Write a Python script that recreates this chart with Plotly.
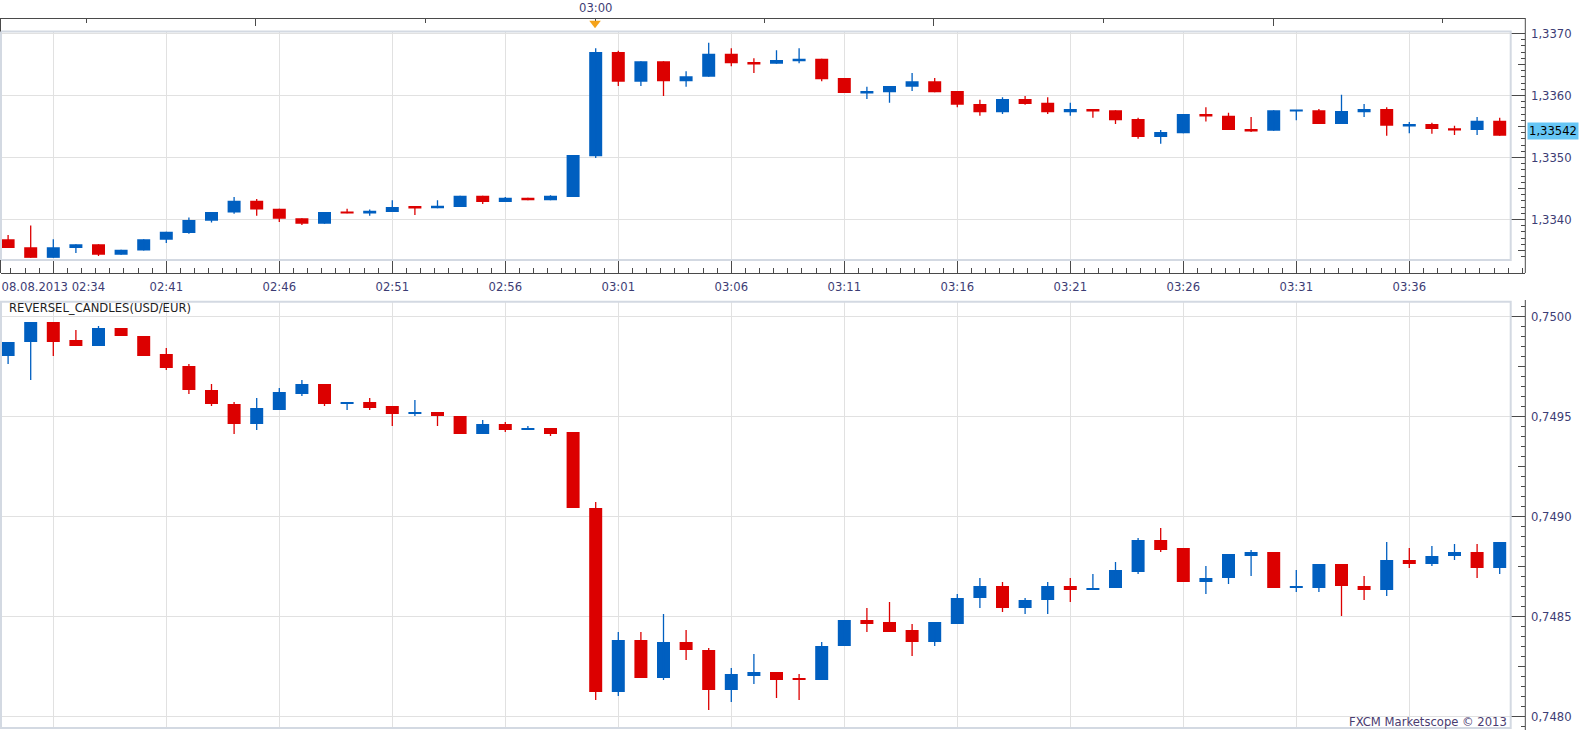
import plotly.graph_objects as go

# ---------------- data ----------------
candle_idx = list(range(67))

x_tick_idx = [2, 7, 12, 17, 22, 27, 32, 37, 42, 47, 52, 57, 62]
x_tick_text = ["08.08.2013 02:34", "02:41", "02:46", "02:51", "02:56", "03:01",
               "03:06", "03:11", "03:16", "03:21", "03:26", "03:31", "03:36"]

strip_long_ticks = [10.96, 25.97, 40.96, 55.97]
strip_short_ticks = [3.45, 18.45, 33.45, 48.45, 63.45]
strip_marker_idx = [25.97]
strip_marker_text = "03:00"

top_open = [1.33368, 1.33355, 1.33338, 1.33354, 1.33360, 1.33343, 1.33350, 1.33367, 1.33378, 1.33398,
            1.33411, 1.33430, 1.33417, 1.33402, 1.33393, 1.33412, 1.33411, 1.33412, 1.33420, 1.33418,
            1.33420, 1.33438, 1.33428, 1.33435, 1.33431, 1.33436, 1.33502, 1.33670, 1.33622, 1.33655,
            1.33623, 1.33630, 1.33667, 1.33654, 1.33651, 1.33655, 1.33659, 1.33628, 1.33604, 1.33605,
            1.33614, 1.33623, 1.33607, 1.33586, 1.33573, 1.33594, 1.33588, 1.33573, 1.33578, 1.33576,
            1.33562, 1.33533, 1.33539, 1.33570, 1.33567, 1.33546, 1.33543, 1.33575, 1.33576, 1.33554,
            1.33573, 1.33578, 1.33551, 1.33554, 1.33547, 1.33544, 1.33559]
top_high = [1.33375, 1.33390, 1.33368, 1.33360, 1.33360, 1.33351, 1.33368, 1.33380, 1.33403, 1.33412,
            1.33436, 1.33433, 1.33417, 1.33402, 1.33412, 1.33417, 1.33416, 1.33431, 1.33420, 1.33431,
            1.33438, 1.33438, 1.33436, 1.33435, 1.33439, 1.33504, 1.33676, 1.33672, 1.33655, 1.33655,
            1.33639, 1.33685, 1.33676, 1.33660, 1.33673, 1.33676, 1.33659, 1.33628, 1.33614, 1.33615,
            1.33636, 1.33628, 1.33607, 1.33593, 1.33597, 1.33599, 1.33597, 1.33588, 1.33578, 1.33576,
            1.33564, 1.33544, 1.33570, 1.33581, 1.33572, 1.33565, 1.33576, 1.33576, 1.33578, 1.33601,
            1.33586, 1.33581, 1.33557, 1.33556, 1.33551, 1.33565, 1.33564]
top_low = [1.33354, 1.33338, 1.33338, 1.33346, 1.33341, 1.33343, 1.33350, 1.33362, 1.33377, 1.33395,
           1.33409, 1.33406, 1.33396, 1.33391, 1.33393, 1.33410, 1.33406, 1.33412, 1.33407, 1.33418,
           1.33420, 1.33425, 1.33428, 1.33431, 1.33431, 1.33436, 1.33499, 1.33615, 1.33615, 1.33599,
           1.33614, 1.33630, 1.33647, 1.33636, 1.33651, 1.33652, 1.33623, 1.33604, 1.33594, 1.33588,
           1.33607, 1.33605, 1.33581, 1.33567, 1.33570, 1.33585, 1.33570, 1.33567, 1.33564, 1.33554,
           1.33530, 1.33522, 1.33539, 1.33558, 1.33544, 1.33541, 1.33543, 1.33560, 1.33554, 1.33554,
           1.33565, 1.33535, 1.33539, 1.33538, 1.33536, 1.33536, 1.33535]
top_close = [1.33354, 1.33338, 1.33355, 1.33360, 1.33343, 1.33351, 1.33368, 1.33380, 1.33399, 1.33412,
             1.33430, 1.33416, 1.33401, 1.33393, 1.33412, 1.33410, 1.33414, 1.33420, 1.33419, 1.33422,
             1.33438, 1.33428, 1.33435, 1.33431, 1.33438, 1.33504, 1.33670, 1.33622, 1.33655, 1.33623,
             1.33631, 1.33667, 1.33652, 1.33651, 1.33657, 1.33659, 1.33626, 1.33604, 1.33607, 1.33615,
             1.33623, 1.33605, 1.33585, 1.33573, 1.33594, 1.33586, 1.33573, 1.33578, 1.33575, 1.33560,
             1.33533, 1.33541, 1.33570, 1.33566, 1.33544, 1.33543, 1.33576, 1.33576, 1.33554, 1.33575,
             1.33578, 1.33551, 1.33554, 1.33546, 1.33544, 1.33559, 1.33535]

bot_open = [0.74980, 0.74987, 0.74997, 0.74988, 0.74985, 0.74994, 0.74990, 0.74981, 0.74975, 0.74963,
            0.74956, 0.74946, 0.74953, 0.74961, 0.74966, 0.74956, 0.74957, 0.74955, 0.74951, 0.74952,
            0.74950, 0.74941, 0.74946, 0.74943, 0.74944, 0.74942, 0.74904, 0.74812, 0.74838, 0.74819,
            0.74837, 0.74833, 0.74813, 0.74820, 0.74822, 0.74819, 0.74818, 0.74835, 0.74848, 0.74847,
            0.74843, 0.74837, 0.74846, 0.74859, 0.74865, 0.74854, 0.74858, 0.74865, 0.74863, 0.74864,
            0.74872, 0.74888, 0.74884, 0.74867, 0.74869, 0.74880, 0.74882, 0.74864, 0.74864, 0.74876,
            0.74865, 0.74863, 0.74878, 0.74876, 0.74880, 0.74882, 0.74874]
bot_high = [0.74987, 0.74997, 0.74997, 0.74993, 0.74995, 0.74994, 0.74990, 0.74984, 0.74976, 0.74966,
            0.74957, 0.74959, 0.74964, 0.74968, 0.74966, 0.74957, 0.74959, 0.74955, 0.74958, 0.74952,
            0.74950, 0.74948, 0.74947, 0.74945, 0.74944, 0.74942, 0.74907, 0.74842, 0.74842, 0.74851,
            0.74843, 0.74834, 0.74824, 0.74831, 0.74822, 0.74821, 0.74837, 0.74848, 0.74854, 0.74857,
            0.74846, 0.74847, 0.74861, 0.74869, 0.74867, 0.74859, 0.74867, 0.74869, 0.74871, 0.74877,
            0.74889, 0.74894, 0.74884, 0.74875, 0.74881, 0.74883, 0.74882, 0.74873, 0.74876, 0.74876,
            0.74870, 0.74887, 0.74884, 0.74885, 0.74886, 0.74886, 0.74887]
bot_low = [0.74976, 0.74968, 0.74980, 0.74985, 0.74985, 0.74990, 0.74980, 0.74973, 0.74961, 0.74955,
           0.74941, 0.74943, 0.74953, 0.74960, 0.74955, 0.74953, 0.74953, 0.74945, 0.74950, 0.74945,
           0.74941, 0.74941, 0.74942, 0.74943, 0.74940, 0.74904, 0.74808, 0.74810, 0.74819, 0.74818,
           0.74828, 0.74803, 0.74807, 0.74816, 0.74809, 0.74808, 0.74818, 0.74835, 0.74842, 0.74842,
           0.74830, 0.74835, 0.74846, 0.74854, 0.74852, 0.74851, 0.74851, 0.74857, 0.74863, 0.74864,
           0.74871, 0.74882, 0.74867, 0.74861, 0.74866, 0.74870, 0.74864, 0.74862, 0.74862, 0.74850,
           0.74858, 0.74860, 0.74874, 0.74875, 0.74878, 0.74869, 0.74871]
bot_close = [0.74987, 0.74997, 0.74987, 0.74985, 0.74994, 0.74990, 0.74980, 0.74974, 0.74963, 0.74956,
             0.74946, 0.74954, 0.74962, 0.74966, 0.74956, 0.74957, 0.74954, 0.74951, 0.74952, 0.74950,
             0.74941, 0.74946, 0.74943, 0.74944, 0.74941, 0.74904, 0.74812, 0.74838, 0.74819, 0.74837,
             0.74833, 0.74813, 0.74821, 0.74822, 0.74818, 0.74818, 0.74835, 0.74848, 0.74846, 0.74842,
             0.74837, 0.74847, 0.74859, 0.74865, 0.74854, 0.74858, 0.74865, 0.74863, 0.74864, 0.74873,
             0.74888, 0.74883, 0.74867, 0.74869, 0.74881, 0.74882, 0.74864, 0.74865, 0.74876, 0.74865,
             0.74863, 0.74878, 0.74876, 0.74880, 0.74882, 0.74874, 0.74887]

top_tick_vals = [1.3340, 1.3350, 1.3360, 1.3370]
top_tick_text = ["1,3340", "1,3350", "1,3360", "1,3370"]
top_mid_ticks = [1.3335, 1.3345, 1.3355, 1.3365]
bot_tick_vals = [0.7480, 0.7485, 0.7490, 0.7495, 0.7500]
bot_tick_text = ["0,7480", "0,7485", "0,7490", "0,7495", "0,7500"]
bot_mid_ticks = [0.74775, 0.74825, 0.74875, 0.74925, 0.74975]

last_price = 1.33542
last_price_text = "1,33542"
panel_title = "REVERSEL_CANDLES(USD/EUR)"
credit_text = "FXCM Marketscope \u00a9 2013"

# ---------------- style / layout constants ----------------
W, H = 1583, 730
UP = "#005fc0"
DOWN = "#dc0000"
GRID = "#e1e1e1"
AXIS = "#4a4a4a"
FRAME = "#d3d9e2"
LABEL = "#3c3c74"
FONT = "Verdana, 'DejaVu Sans', sans-serif"
FS = 11.6


def fx(px):
    return px / W


def fy(py):
    return 1 - py / H


PX0, PX_AXIS, PX_FRAME_R = 1.0, 1525.3, 1510.7
CANDLE_X0, CANDLE_STEP = 8.1, 22.6
x_range = [(PX0 - CANDLE_X0) / CANDLE_STEP, (PX_AXIS - CANDLE_X0) / CANDLE_STEP]
x_domain = [fx(PX0), fx(PX_AXIS)]

TOP_T, TOP_B = 31.5, 260.0
BOT_T, BOT_B = 301.7, 728.0
top_range = [1.3370 - (TOP_B - 33.4) / 62000, 1.3370 + (33.4 - TOP_T) / 62000]
bot_range = [0.7500 - (BOT_B - 316.0) / 200000, 0.7500 + (316.0 - BOT_T) / 200000]

BODY_W = 13 / CANDLE_STEP

fig = go.Figure()


def add_candles(o, h, l, c, xa, ya, min_body):
    for up, col in ((True, UP), (False, DOWN)):
        sel = [i for i in candle_idx if (c[i] >= o[i]) == up]
        wx, wy = [], []
        for i in sel:
            wx += [i, i, None]
            wy += [l[i], h[i], None]
        fig.add_trace(go.Scatter(x=wx, y=wy, mode="lines", line=dict(color=col, width=1.3),
                                 xaxis=xa, yaxis=ya, hoverinfo="skip", showlegend=False))
        fig.add_trace(go.Bar(x=sel,
                             base=[min(o[i], c[i]) for i in sel],
                             y=[max(abs(c[i] - o[i]), min_body) for i in sel],
                             width=BODY_W, marker=dict(color=col, line=dict(width=0)),
                             xaxis=xa, yaxis=ya, hoverinfo="skip", showlegend=False))


add_candles(top_open, top_high, top_low, top_close, "x", "y", 1.5 / 62000)
add_candles(bot_open, bot_high, bot_low, bot_close, "x2", "y2", 1.5 / 200000)

# strip marker (03:00)
fig.add_trace(go.Scatter(x=strip_marker_idx, y=[0.62], mode="markers",
                         marker=dict(symbol="triangle-down", size=10, color="#f5a31a", line=dict(width=0)),
                         xaxis="x3", yaxis="y3", hoverinfo="skip", showlegend=False))
# carriers for the medium-tick overlay axes
fig.add_trace(go.Scatter(x=[0], y=[top_mid_ticks[0]], mode="markers", marker=dict(opacity=0),
                         xaxis="x", yaxis="y4", hoverinfo="skip", showlegend=False))
fig.add_trace(go.Scatter(x=[0], y=[bot_mid_ticks[0]], mode="markers", marker=dict(opacity=0),
                         xaxis="x2", yaxis="y5", hoverinfo="skip", showlegend=False))

tickfont = dict(family=FONT, size=FS, color=LABEL)

common_y = dict(anchor="free", position=fx(PX_AXIS), side="right", ticks="inside",
                tickcolor=AXIS, tickwidth=1, showline=False, zeroline=False)

fig.update_layout(
    width=W, height=H, margin=dict(l=0, r=0, t=0, b=0),
    paper_bgcolor="white", plot_bgcolor="white",
    barmode="overlay", showlegend=False,
    font=dict(family=FONT, size=FS, color=LABEL),
    xaxis=dict(domain=x_domain, range=x_range, anchor="free", position=fy(273), side="bottom",
               showline=True, linecolor=AXIS, linewidth=1, ticks="inside", ticklen=12,
               tickcolor=AXIS, tickwidth=1, tickmode="array", tickvals=x_tick_idx,
               ticktext=x_tick_text, tickfont=tickfont, ticklabelstandoff=3,
               showgrid=True, gridcolor=GRID, gridwidth=1, zeroline=False,
               minor=dict(ticks="inside", ticklen=5, tickcolor=AXIS, tick0=2, dtick=0.625,
                          showgrid=False)),
    xaxis2=dict(domain=x_domain, range=x_range, anchor="y2", showline=False, ticks="",
                showticklabels=False, tickmode="array", tickvals=x_tick_idx,
                showgrid=True, gridcolor=GRID, gridwidth=1, zeroline=False),
    xaxis3=dict(domain=x_domain, range=x_range, anchor="free", position=fy(18), side="top",
                showline=True, linecolor=AXIS, linewidth=1, ticks="inside", ticklen=7,
                tickcolor=AXIS, tickmode="array", tickvals=strip_long_ticks,
                showticklabels=False, showgrid=False, zeroline=False, layer="below traces",
                minor=dict(ticks="inside", ticklen=4, tickcolor=AXIS, tickmode="array",
                           tickvals=strip_short_ticks, showgrid=False)),
    yaxis=dict(domain=[fy(TOP_B), fy(TOP_T)], range=top_range, tickmode="array",
               tickvals=top_tick_vals, ticklen=14, showticklabels=False,
               showgrid=True, gridcolor=GRID, gridwidth=1,
               minor=dict(ticks="inside", ticklen=4, tickcolor=AXIS, tick0=1.3330, dtick=0.0001,
                          showgrid=False),
               **common_y),
    yaxis2=dict(domain=[fy(BOT_B), fy(BOT_T)], range=bot_range, tickmode="array",
                tickvals=bot_tick_vals, ticklen=14, showticklabels=False,
                showgrid=True, gridcolor=GRID, gridwidth=1,
                minor=dict(ticks="inside", ticklen=4, tickcolor=AXIS, tick0=0.7475, dtick=0.00005,
                           showgrid=False),
                **common_y),
    yaxis3=dict(domain=[fy(TOP_T), fy(18)], range=[0, 1], visible=False, anchor="x3"),
    yaxis4=dict(overlaying="y", range=top_range, tickmode="array", tickvals=top_mid_ticks,
                ticklen=7, showticklabels=False, showgrid=False, **common_y),
    yaxis5=dict(overlaying="y2", range=bot_range, tickmode="array", tickvals=bot_mid_ticks,
                ticklen=7, showticklabels=False, showgrid=False, **common_y),
)

shapes = [
    # plot frames
    dict(type="rect", xref="paper", yref="paper", x0=fx(PX0), x1=fx(PX_FRAME_R),
         y0=fy(TOP_B), y1=fy(TOP_T), line=dict(color=FRAME, width=2), layer="above"),
    dict(type="rect", xref="paper", yref="paper", x0=fx(PX0), x1=fx(PX_FRAME_R),
         y0=fy(BOT_B), y1=fy(BOT_T), line=dict(color=FRAME, width=2), layer="above"),
    # price-axis lines
    dict(type="line", xref="paper", yref="paper", x0=fx(PX_AXIS), x1=fx(PX_AXIS),
         y0=fy(18), y1=fy(273), line=dict(color=AXIS, width=1)),
    dict(type="line", xref="paper", yref="paper", x0=fx(PX_AXIS), x1=fx(PX_AXIS),
         y0=fy(300), y1=fy(H), line=dict(color=AXIS, width=1)),
    # left edges of the strip and of the time axis
    dict(type="line", xref="paper", yref="paper", x0=fx(0.5), x1=fx(0.5),
         y0=fy(18), y1=fy(TOP_T), line=dict(color=AXIS, width=1)),
    dict(type="line", xref="paper", yref="paper", x0=fx(0.5), x1=fx(0.5),
         y0=fy(TOP_B), y1=fy(273), line=dict(color=AXIS, width=1)),
]
fig.update_layout(shapes=shapes)

LABEL_X = fx(1528.5)
annotations = []
# price-axis labels
for v, t in zip(top_tick_vals, top_tick_text):
    annotations.append(dict(text=t, xref="paper", x=LABEL_X, yref="y", y=v, xanchor="left",
                            yanchor="middle", showarrow=False, font=tickfont, yshift=-1))
for v, t in zip(bot_tick_vals, bot_tick_text):
    annotations.append(dict(text=t, xref="paper", x=LABEL_X, yref="y2", y=v, xanchor="left",
                            yanchor="middle", showarrow=False, font=tickfont, yshift=-1))
annotations += [
    dict(text=strip_marker_text, xref="x", x=strip_marker_idx[0], yref="paper", y=fy(7.5),
         xanchor="center", yanchor="middle", showarrow=False, font=tickfont),
    dict(text=panel_title, xref="paper", x=fx(7.0), yref="paper", y=fy(308),
         xanchor="left", yanchor="middle", showarrow=False,
         font=dict(family=FONT, size=FS, color="#1e1e1e")),
    dict(text=credit_text, xref="paper", x=fx(1509), yref="paper", y=fy(722),
         xanchor="right", yanchor="middle", showarrow=False,
         font=dict(family=FONT, size=FS, color="#4a3c70")),
    dict(text=last_price_text, xref="paper", x=fx(1526.5), yref="paper", y=fy(130.7),
         xanchor="left", yanchor="middle", showarrow=False, bgcolor="#66c6f5", borderpad=1,
         font=dict(family=FONT, size=FS, color="#000000")),
]
fig.update_layout(annotations=annotations)

fig.write_html("out.html")
